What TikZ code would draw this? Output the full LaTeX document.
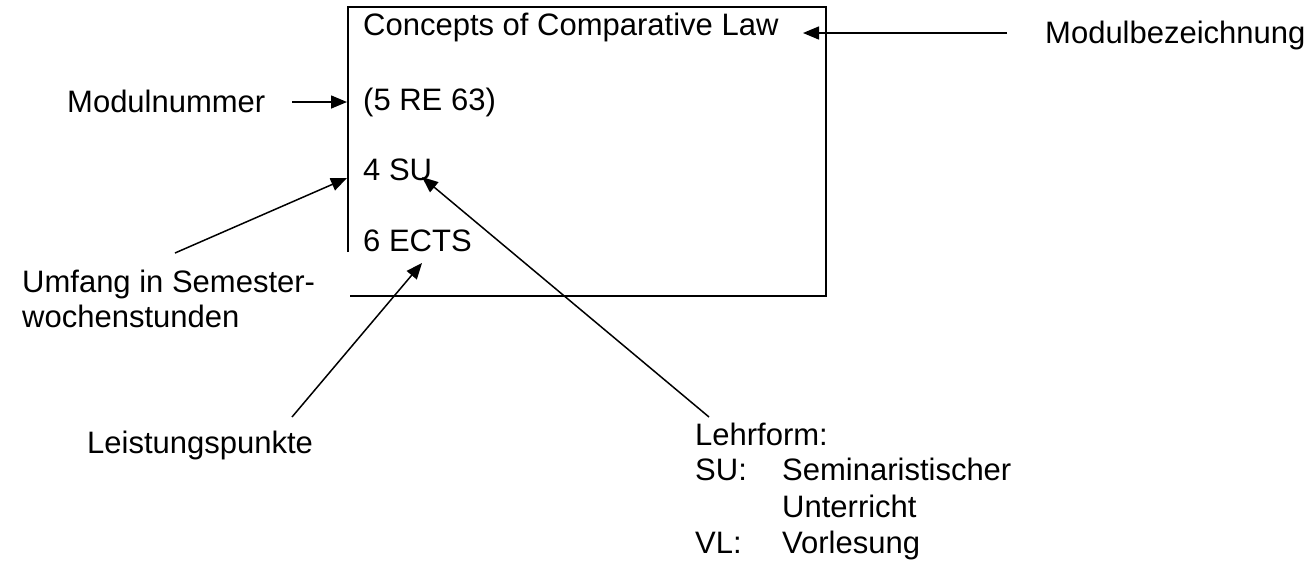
\documentclass[tikz,border=0pt]{standalone}
\usepackage{fontspec}
\setmainfont{Liberation Sans}
\usetikzlibrary{arrows.meta}
\begin{document}
\begin{tikzpicture}[x=1pt,y=-1pt,
  lbl/.style={anchor=base west,inner sep=0pt,font=\fontsize{31}{35}\selectfont},
  boxline/.style={line width=2.5pt},
  arr/.style={line width=1.5pt,-{Triangle[length=16pt,width=13pt]}}]
\useasboundingbox[fill=white] (0,0) rectangle (1313,574);
% box
\draw[boxline] (348,252) -- (348,7) -- (826,7) -- (826,296) -- (350,296);
% texts in box
\node[lbl] (title) at (363,35) {Concepts of Comparative Law};
\node[lbl] (num) at (363,110) {(5 RE 63)};
\node[lbl] (su) at (363,180) {4 SU};
\node[lbl] (ects) at (363,251) {6 ECTS};
% outside labels
\node[lbl] (mbez) at (1045,43) {Modulbezeichnung};
\node[lbl] (mnum) at (67,112) {Modulnummer};
\node[lbl] (umf1) at (22,292) {Umfang in Semester-};
\node[lbl] (umf2) at (22,327) {wochenstunden};
\node[lbl] (lp) at (87,453) {Leistungspunkte};
\node[lbl] (lf) at (695,445) {Lehrform:};
\node[lbl] (su1) at (695,480) {SU:};
\node[lbl] (su2) at (782,480) {Seminaristischer};
\node[lbl] (su3) at (782,517) {Unterricht};
\node[lbl] (vl1) at (695,553) {VL:};
\node[lbl] (vl2) at (782,553) {Vorlesung};
% arrow end points
\coordinate (a1s) at (1007,33);
\coordinate (a1e) at (803,33);
\coordinate (a2s) at (292,102);
\coordinate (a2e) at (347,102);
\coordinate (a3s) at (175,253);
\coordinate (a3e) at (347,178);
\coordinate (a4s) at (292,417);
\coordinate (a4e) at (422,263);
\coordinate (a5s) at (709,417);
\coordinate (a5e) at (422,177);
\draw[arr] (a1s) -- (a1e);
\draw[arr] (a2s) -- (a2e);
\draw[arr] (a3s) -- (a3e);
\draw[arr] (a4s) -- (a4e);
\draw[arr] (a5s) -- (a5e);
\end{tikzpicture}
\end{document}
